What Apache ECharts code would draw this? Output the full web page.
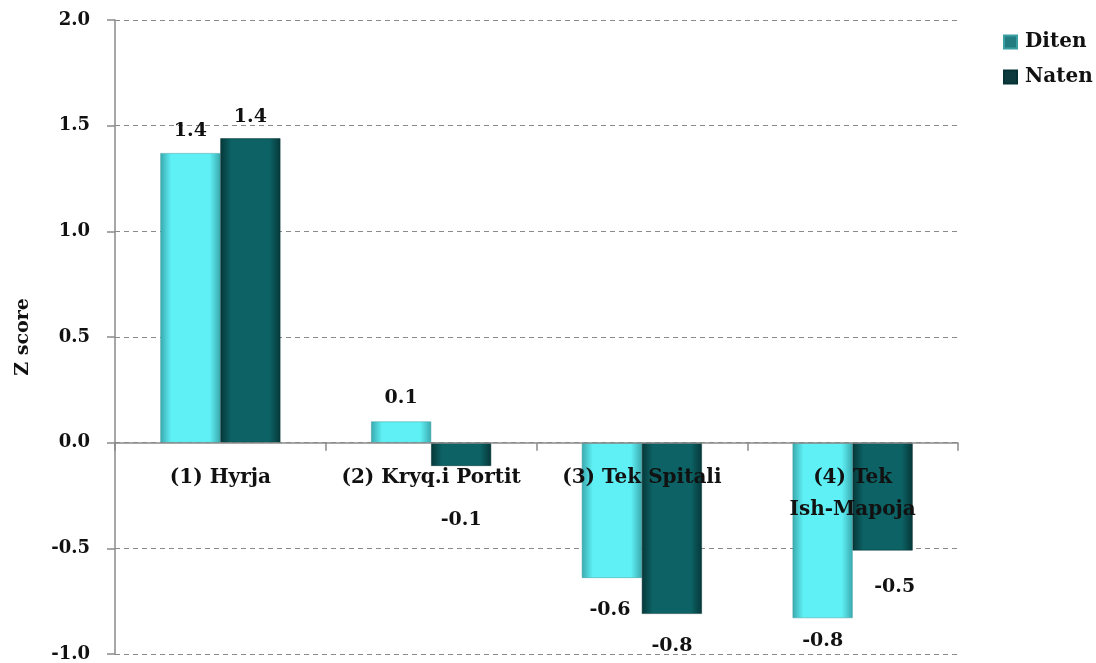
<!DOCTYPE html>
<html>
<head>
<meta charset="utf-8">
<script src="https://cdn.jsdelivr.net/npm/echarts@6/dist/echarts.min.js"></script>
<style>
  html, body { margin: 0; padding: 0; background: #fff; }
  #chart { width: 1096px; height: 663px; }
</style>
</head>
<body>
<div id="chart"></div>
<script>
// Z scores per location, day vs night
const categories = ['(1) Hyrja', '(2) Kryq.i Portit', '(3) Tek Spitali', '(4) Tek\nIsh-Mapoja'];
const seriesNames = ['Diten', 'Naten'];
const ditenValues = [1.37, 0.10, -0.64, -0.83];
const natenValues = [1.44, -0.11, -0.81, -0.51];
const yTicks = [-1.0, -0.5, 0.0, 0.5, 1.0, 1.5, 2.0];
const yMin = -1.0, yMax = 2.0;

const FONT = '"DejaVu Serif", "Liberation Serif", serif';
const W = 1096, H = 663;
const GRID = { left: 115, right: 138, top: 20, bottom: 9 };
// lift the category axis (line, ticks, labels) up to the zero line
const plotH = H - GRID.top - GRID.bottom;
const zeroOffset = -plotH * (0 - yMin) / (yMax - yMin);

function barGradient(edge, mid) {
  return new echarts.graphic.LinearGradient(0, 0, 1, 0, [
    { offset: 0, color: edge },
    { offset: 0.18, color: mid },
    { offset: 0.82, color: mid },
    { offset: 1, color: edge }
  ]);
}

// per-bar label placement tweaks (distance from bar end, horizontal shift)
const labelTweaks = {
  Diten: [{ d: 13 }, { d: 14 }, { d: 23, dx: -2 }, { d: 13 }],
  Naten: [{ d: 12 }, { d: 45 }, { d: 23 }, { d: 27, dx: 12 }]
};

function buildData(name, values) {
  return values.map((v, i) => {
    const t = labelTweaks[name][i];
    return {
      value: v,
      label: {
        position: v >= 0 ? 'top' : 'bottom',
        distance: t.d,
        offset: [t.dx || 0, 0]
      }
    };
  });
}

const valueLabel = {
  show: true,
  fontFamily: FONT, fontWeight: 'bold', fontSize: 19, color: '#111',
  formatter: p => p.value.toFixed(1)
};

const chart = echarts.init(document.getElementById('chart'));
chart.setOption({
  animation: false,
  backgroundColor: '#ffffff',
  textStyle: { fontFamily: FONT },
  grid: Object.assign({ containLabel: false, outerBoundsMode: 'none' }, GRID),
  legend: {
    orient: 'vertical',
    left: 998,
    top: 27,
    itemWidth: 13,
    itemHeight: 13,
    itemGap: 15,
    icon: 'rect',
    textStyle: { fontFamily: FONT, fontWeight: 'bold', fontSize: 20, color: '#111', padding: [0, 0, 0, 3] },
    data: [
      { name: 'Diten', itemStyle: { color: '#237c80' } },
      { name: 'Naten', itemStyle: { color: '#0d3a3c' } }
    ]
  },
  xAxis: {
    type: 'category',
    data: categories,
    position: 'bottom',
    offset: zeroOffset,
    z: 5,
    axisLine: { onZero: false, lineStyle: { color: '#8a8a8a', width: 1.5 } },
    axisTick: { show: true, length: 8, lineStyle: { color: '#8a8a8a', width: 1.5 } },
    axisLabel: {
      margin: 19,
      fontFamily: FONT, fontWeight: 'bold', fontSize: 20, color: '#111',
      lineHeight: 32, interval: 0
    },
    splitLine: { show: false }
  },
  yAxis: {
    type: 'value',
    min: yMin,
    max: yMax,
    interval: 0.5,
    name: 'Z score',
    nameLocation: 'middle',
    nameGap: 82,
    nameRotate: 90,
    nameTextStyle: { fontFamily: FONT, fontWeight: 'bold', fontSize: 19, color: '#111' },
    axisLine: { show: true, lineStyle: { color: '#8a8a8a', width: 1.5 } },
    axisTick: { show: true, length: 8, lineStyle: { color: '#8a8a8a', width: 1.5 } },
    axisLabel: {
      margin: 25,
      fontFamily: FONT, fontWeight: 'bold', fontSize: 18, color: '#111',
      formatter: v => {
        const t = yTicks.find(x => Math.abs(x - v) < 1e-9);
        return (t !== undefined ? t : v).toFixed(1);
      }
    },
    splitLine: { show: true, lineStyle: { color: '#8a8a8a', type: [5, 4], width: 1 } }
  },
  series: [
    {
      name: seriesNames[0],
      type: 'bar',
      barWidth: 60,
      barGap: '0%',
      itemStyle: { color: barGradient('#3aa9ae', '#5ef0f5'), borderColor: '#3a9fa3', borderWidth: 0.5 },
      label: valueLabel,
      data: buildData('Diten', ditenValues)
    },
    {
      name: seriesNames[1],
      type: 'bar',
      barWidth: 60,
      barGap: '0%',
      itemStyle: { color: barGradient('#063739', '#0c6264'), borderColor: '#053335', borderWidth: 0.5 },
      label: valueLabel,
      data: buildData('Naten', natenValues)
    }
  ]
});
</script>
</body>
</html>
